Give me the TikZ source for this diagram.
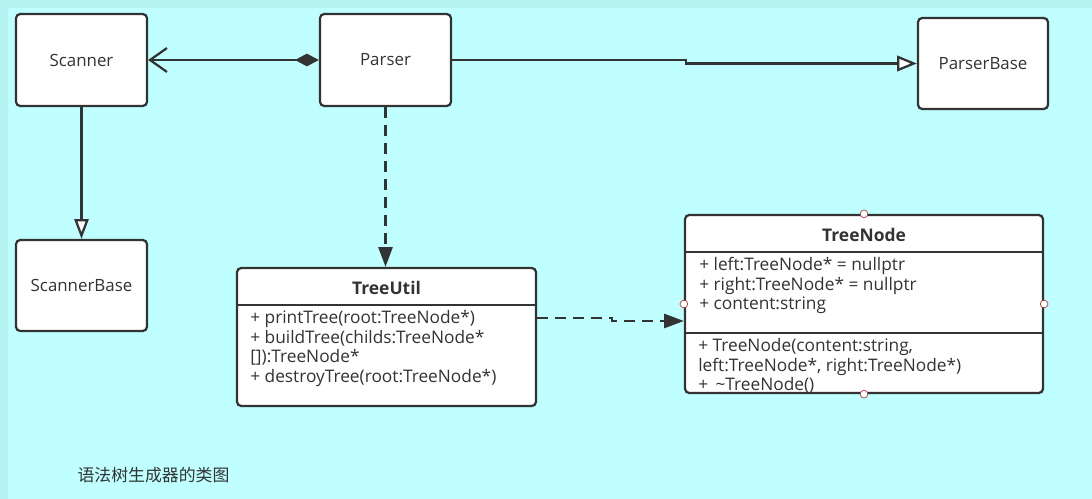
\documentclass[tikz,border=0pt]{standalone}
\usepackage{fontspec}
\setmainfont{Open Sans}
\newfontfamily\cjk{Noto Sans CJK SC}
\usetikzlibrary{arrows.meta, calc, positioning}
\definecolor{mydark}{HTML}{333333}
\definecolor{mycyan}{HTML}{BFFFFF}
\definecolor{myframe}{HTML}{B4F3EF}
\definecolor{myred}{HTML}{B8383B}
\newcommand{\px}{0.025cm}
\tikzset{
	boxnode/.style={
			rectangle,
			rounded corners=3pt,
			draw=mydark,
			line width=1.6pt,
			fill=white,
			text=mydark,
			font=\fontsize{12}{14}\selectfont,
			inner sep=0pt
		},
	titlenode/.style={
			text=mydark,
			font=\bfseries\fontsize{12.4}{14}\selectfont,
			inner sep=0pt
		},
	membernode/.style={
			anchor=north west,
			align=left,
			text=mydark,
			font=\fontsize{12.3}{14}\selectfont,
			inner sep=0pt
		},
	divider/.style={
			draw=mydark,
			line width=1.6pt
		},
	link/.style={
			draw=mydark,
			line width=1.6pt
		},
	dashlink/.style={
			link,
			dash pattern=on 7.8pt off 5pt,
			-{Triangle[length=14pt, width=10pt]}
		},
	portnode/.style={
			circle,
			draw=myred,
			fill=white,
			line width=0.5pt,
			minimum size=5.5pt,
			inner sep=0pt
		}
}

\begin{document}
\begin{tikzpicture}[x=\px, y=-\px]
\useasboundingbox (0,0) rectangle (1092,499);
\fill[myframe] (0,0) rectangle (1092,499);
\fill[mycyan] (8,8) rectangle (1092,499);

% simple classes
\node[boxnode, minimum width=131*\px, minimum height=92*\px] (scanner) at (81.5,60) {Scanner};
\node[boxnode, minimum width=131*\px, minimum height=92*\px] (parser) at (385.5,60) {Parser};
\node[boxnode, minimum width=130*\px, minimum height=91*\px] (parserbase) at (983,63.5) {ParserBase};
\node[boxnode, minimum width=131*\px, minimum height=91*\px] (scannerbase) at (81.5,285.5) {ScannerBase};

% TreeUtil
\node[boxnode, minimum width=299*\px, minimum height=138*\px] (treeutil) at (386.5,337) {};
\node[titlenode] (treeutiltitle) at (386.5,288) {TreeUtil};
\draw[divider] ($(treeutil.north west)+(0,38)$) -- ($(treeutil.north east)+(0,38)$);
\node[membernode] (treeutilops) at (250,310) {+ printTree(root:TreeNode*)\\+ buildTree(childs:TreeNode*\\{[]}):TreeNode*\\+ destroyTree(root:TreeNode*)};

% TreeNode
\node[boxnode, minimum width=358*\px, minimum height=178*\px] (treenode) at (864,304) {};
\node[titlenode] (treenodetitle) at (864,235) {TreeNode};
\draw[divider] ($(treenode.north west)+(0,38)$) -- ($(treenode.north east)+(0,38)$);
\draw[divider] ($(treenode.north west)+(0,119)$) -- ($(treenode.north east)+(0,119)$);
\node[membernode] (treenodeattrs) at (699,257) {+ left:TreeNode* = nullptr\\+ right:TreeNode* = nullptr\\+ content:string};
\node[membernode] (treenodeops) at (698,338) {+ TreeNode(content:string,\\left:TreeNode*, right:TreeNode*)\\+ \,\textasciitilde TreeNode()};

\node[portnode] (pn) at (treenode.north) {};
\node[portnode] (ps) at (treenode.south) {};
\node[portnode] (pw) at (treenode.west) {};
\node[portnode] (pe) at (treenode.east) {};

% relations
\draw[link, {Diamond[length=17pt, width=9pt]}-{Straight Barb[length=12pt, width=17pt]}] (parser) -- (scanner);
\draw[link, -{Triangle[open, fill=white, length=14pt, width=11pt]}] (parser.east) -- ++(234,0) |- (parserbase.west);
\draw[link, -{Triangle[open, fill=white, length=14pt, width=10pt]}] (scanner) -- (scannerbase);
\draw[dashlink] (parser) -- (parser |- treeutil.north);
\draw[dashlink] ($(treeutil.east)+(0,-19)$) -- ++(75,0) |- ($(treenode.west)+(0,17)$);

\node[text=mydark, font=\cjk\fontsize{12}{14}\selectfont] (caption) at (153.5,475) {语法树生成器的类图};
\end{tikzpicture}
\end{document}
